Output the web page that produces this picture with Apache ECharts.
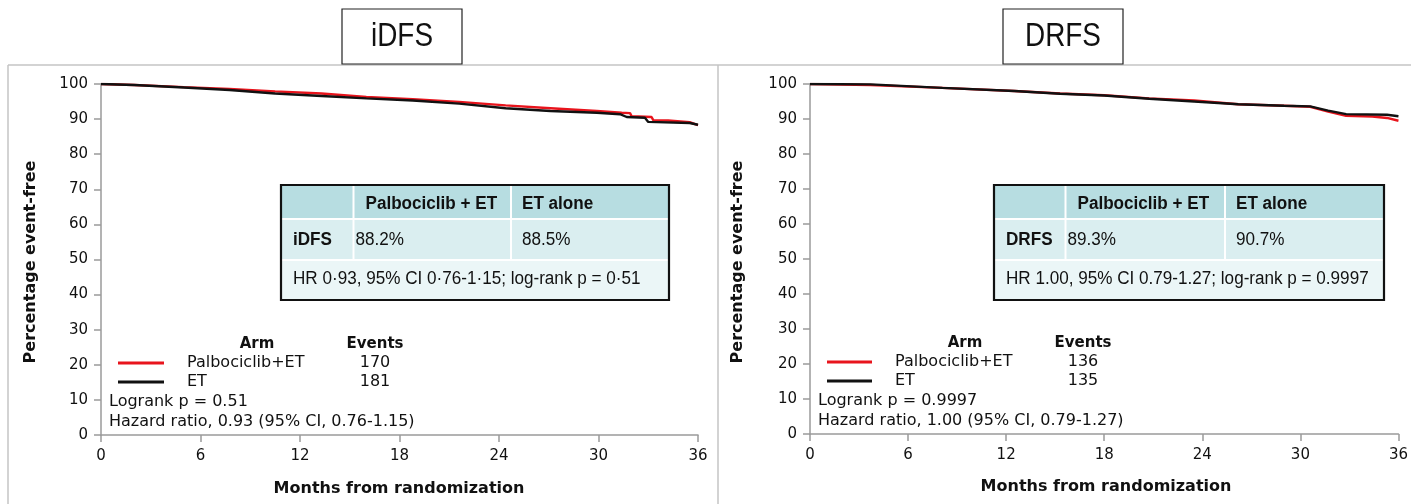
<!DOCTYPE html>
<html><head><meta charset="utf-8">
<script src="https://cdn.jsdelivr.net/npm/echarts@6/dist/echarts.min.js"></script>
<style>html,body{margin:0;padding:0;background:#fff}#c{width:1411px;height:504px}</style>
</head><body><div id="c"></div>
<script>
// ---- data ----
const xTicks = [0, 6, 12, 18, 24, 30, 36];
const yTicks = [0, 10, 20, 30, 40, 50, 60, 70, 80, 90, 100];
const panelTitles = ['iDFS', 'DRFS'];
const armNames = ['Palbociclib+ET', 'ET'];
const idfsEvents = [170, 181];
const drfsEvents = [136, 135];
const idfsPalbo = [[0,100],[2,99.7],[5,99.1],[7.75,98.6],[10.5,97.9],[13.3,97.3],[16,96.3],[18.8,95.7],[21.6,94.9],[24.4,93.9],[27.1,93.1],[29.9,92.3],[31.4,91.8],[31.9,91.7],[32.0,90.8],[33.2,90.6],[33.3,89.7],[34.2,89.6],[34.3,89.3],[35.5,89.1],[36,88.3]];
const idfsET = [[0,100],[2,99.7],[5,99.0],[7.75,98.3],[10.5,97.3],[13.3,96.6],[16,95.9],[18.8,95.3],[21.6,94.4],[24.4,93.1],[27.1,92.3],[29.9,91.8],[31.3,91.4],[31.7,90.6],[32.8,90.4],[33.0,89.2],[35.5,88.9],[36,88.4]];
const drfsPalbo = [[0,100],[3.7,99.7],[8.1,98.9],[12.5,98.0],[15.3,97.3],[18,96.8],[20.75,95.9],[23.5,95.3],[26.2,94.2],[29,93.8],[30.6,93.5],[31.7,92.1],[32.8,90.9],[34.4,90.7],[35.3,90.3],[36,89.5]];
const drfsET = [[0,100],[3.7,99.9],[8.1,98.9],[12.5,98.0],[15.3,97.2],[18,96.7],[20.75,95.8],[23.5,95.0],[26.2,94.2],[29,93.8],[30.6,93.6],[31.7,92.4],[32.8,91.4],[35.3,91.2],[36,90.8]];
const tableHeader = ['', 'Palbociclib + ET', 'ET alone'];
const idfsRow = ['iDFS', '88.2%', '88.5%'];
const drfsRow = ['DRFS', '89.3%', '90.7%'];
const idfsHR = 'HR 0·93, 95% CI 0·76-1·15; log-rank p = 0·51';
const drfsHR = 'HR 1.00, 95% CI 0.79-1.27; log-rank p = 0.9997';
const idfsStats = ['Logrank p = 0.51', 'Hazard ratio, 0.93 (95% CI, 0.76-1.15)'];
const drfsStats = ['Logrank p = 0.9997', 'Hazard ratio, 1.00 (95% CI, 0.79-1.27)'];

// ---- styling ----
const RED = '#e8141c', BLACK = '#111';
const AXIS = '#9a9a9a';
const TICKFONT = 'DejaVu Sans';
const FRAME = '#c4c4c4';

function xAxisDef(gi) {
  return {
    type: 'value', gridIndex: gi, min: 0, max: 36, interval: 6,
    axisLine: {lineStyle: {color: AXIS, width: 1.5}},
    axisTick: {show: true, length: 7, lineStyle: {color: AXIS, width: 1.5}},
    axisLabel: {color: '#111', fontFamily: TICKFONT, fontSize: 15, margin: 14},
    splitLine: {show: false}
  };
}
function yAxisDef(gi) {
  return {
    type: 'value', gridIndex: gi, min: 0, max: 100, interval: 10,
    axisLine: {show: true, lineStyle: {color: AXIS, width: 1.5}},
    axisTick: {show: true, length: 7, lineStyle: {color: AXIS, width: 1.5}},
    axisLabel: {color: '#111', fontFamily: TICKFONT, fontSize: 15, margin: 13},
    splitLine: {show: false}
  };
}
function lineSeries(data, color, gi) {
  return {type: 'line', xAxisIndex: gi, yAxisIndex: gi, data: data, showSymbol: false,
    symbol: 'none', lineStyle: {color: color, width: 2.4}, itemStyle: {color: color},
    animation: false, z: color === BLACK ? 3 : 2};
}

function txt(x, y, s, font, opts) {
  opts = opts || {};
  return {
    type: 'text', x: x, y: y, z: 20, silent: true,
    rotation: opts.rot || 0, scaleX: opts.sx || 1,
    style: {text: s, font: font, fill: opts.fill || '#111',
      textAlign: opts.align || 'left', align: opts.align || 'left',
      textVerticalAlign: 'middle', verticalAlign: 'middle'}
  };
}
function ln(x1, y1, x2, y2, color, w) {
  return {type: 'line', z: 15, silent: true, shape: {x1: x1, y1: y1, x2: x2, y2: y2},
    style: {stroke: color, lineWidth: w}};
}
function rect(x, y, w, h, fill, stroke, lw) {
  return {type: 'rect', z: 18, silent: true, shape: {x: x, y: y, width: w, height: h},
    style: {fill: fill || 'none', stroke: stroke || 'none', lineWidth: lw || 0}};
}

const g = [];
// panel frames
g.push(ln(8, 65, 1411, 65, FRAME, 1.5));
g.push(ln(8, 65, 8, 504, FRAME, 1.5));
g.push(ln(718, 65, 718, 504, FRAME, 1.5));

// title boxes
function titleBox(x, w, t) {
  g.push(rect(x, 9, w, 55, '#fff', '#222', 1.2));
  g.push(txt(x + w / 2, 37, t, '34px "Liberation Sans"', {align: 'center', sx: 0.82}));
}
titleBox(342, 120, panelTitles[0]);
titleBox(1003, 120, panelTitles[1]);

// axis titles
function axisTitles(yx, yy, xx, xy) {
  g.push(txt(yx, yy, 'Percentage event-free', 'bold 16px "DejaVu Sans"', {align: 'center', rot: Math.PI / 2}));
  g.push(txt(xx, xy, 'Months from randomization', 'bold 16px "DejaVu Sans"', {align: 'center'}));
}
axisTitles(31, 262, 399, 489);
axisTitles(738, 262, 1106, 487);

// inset tables
function table(x0, x1, c1, c2, row, hr) {
  const y0 = 185, r1 = 219, r2 = 260, y1 = 300;
  const HEAD = '#b7dde1', ROW2 = '#daeef0', ROW3 = '#ebf6f7';
  g.push(rect(x0, y0, x1 - x0, y1 - y0, '#fff'));
  g.push(rect(x0, y0, c1 - x0 - 1, r1 - y0 - 1, HEAD));
  g.push(rect(c1 + 1, y0, c2 - c1 - 2, r1 - y0 - 1, HEAD));
  g.push(rect(c2 + 1, y0, x1 - c2 - 1, r1 - y0 - 1, HEAD));
  g.push(rect(x0, r1 + 1, c1 - x0 - 1, r2 - r1 - 2, ROW2));
  g.push(rect(c1 + 1, r1 + 1, c2 - c1 - 2, r2 - r1 - 2, ROW2));
  g.push(rect(c2 + 1, r1 + 1, x1 - c2 - 1, r2 - r1 - 2, ROW2));
  g.push(rect(x0, r2 + 1, x1 - x0, y1 - r2 - 1, ROW3));
  g.push(rect(x0, y0, x1 - x0, y1 - y0, null, '#111', 2.2));
  const F = '18px "Liberation Sans"', FB = 'bold 18px "Liberation Sans"', S = 0.95;
  g.push(txt(c1 + 12, 204, tableHeader[1], FB, {sx: S}));
  g.push(txt(c2 + 11, 204, tableHeader[2], FB, {sx: S}));
  g.push(txt(x0 + 12, 240, row[0], FB, {sx: S}));
  g.push(txt(c1 + 2, 240, row[1], F, {sx: S}));
  g.push(txt(c2 + 11, 240, row[2], F, {sx: S}));
  g.push(txt(x0 + 12, 279, hr, F, {sx: S}));
}
table(281, 669, 353.5, 511, idfsRow, idfsHR);
table(994, 1384, 1065.5, 1225, drfsRow, drfsHR);

// legends
function legend(armX, evX, lx0, lx1, labX, statX, y, ev, stats) {
  const F = '16px "DejaVu Sans"', FB = 'bold 15px "DejaVu Sans"';
  g.push(txt(armX, y, 'Arm', FB, {align: 'center'}));
  g.push(txt(evX, y, 'Events', FB, {align: 'center'}));
  g.push(ln(lx0, y + 19, lx1, y + 19, RED, 3));
  g.push(ln(lx0, y + 38, lx1, y + 38, BLACK, 3));
  g.push(txt(labX, y + 19, armNames[0], F));
  g.push(txt(labX, y + 38, armNames[1], F));
  g.push(txt(evX, y + 19, String(ev[0]), F, {align: 'center'}));
  g.push(txt(evX, y + 38, String(ev[1]), F, {align: 'center'}));
  g.push(txt(statX, y + 58, stats[0], F));
  g.push(txt(statX, y + 78, stats[1], F));
}
legend(257, 375, 118, 164, 187, 109, 344, idfsEvents, idfsStats);
legend(965, 1083, 827, 872, 895, 818, 343, drfsEvents, drfsStats);

const chart = echarts.init(document.getElementById('c'), null, {renderer: 'canvas'});
chart.setOption({
  animation: false,
  backgroundColor: '#fff',
  grid: [
    {left: 101, top: 84, width: 597, height: 351, containLabel: false},
    {left: 810, top: 84, width: 595, height: 350, containLabel: false}
  ],
  xAxis: [xAxisDef(0), xAxisDef(1)],
  yAxis: [yAxisDef(0), yAxisDef(1)],
  series: [
    lineSeries(idfsPalbo, RED, 0), lineSeries(idfsET, BLACK, 0),
    lineSeries(drfsPalbo, RED, 1), lineSeries(drfsET, BLACK, 1)
  ],
  graphic: {elements: g}
});
</script></body></html>
